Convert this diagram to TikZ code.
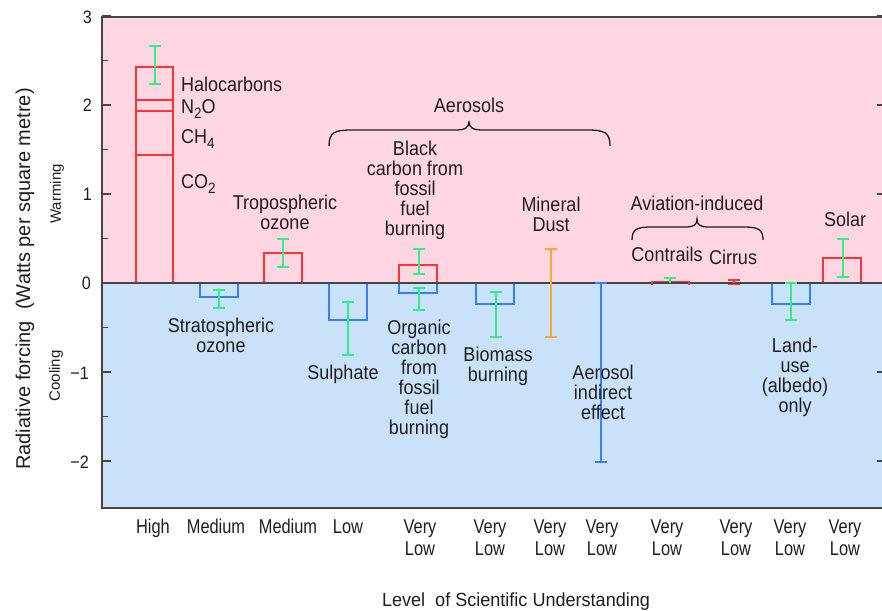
\documentclass[tikz,border=0pt]{standalone}
\usepackage{fontspec}
\setmainfont{Liberation Sans}[FakeStretch=0.9]
\newfontfamily\narrowfont{Liberation Sans}[FakeStretch=0.82]
\newfontfamily\titlefont{Liberation Sans}[FakeStretch=0.95]
\newfontfamily\plainfont{Liberation Sans}
\definecolor{warmbg}{HTML}{FFD6E1}
\definecolor{coolbg}{HTML}{C9E2FA}
\definecolor{barred}{HTML}{FF3333}
\definecolor{barblue}{HTML}{3380FF}
\definecolor{errgreen}{HTML}{33EE88}
\definecolor{errorange}{HTML}{FFA633}
\definecolor{framegray}{HTML}{454545}
\definecolor{txt}{HTML}{1E1E1E}
\newcommand\sbs[1]{\raisebox{-0.28em}{\fontsize{15}{15}\selectfont #1}}
\newcommand\myerrbar[4]{%
  \draw[#1, line width=1.8] (#2,#3) -- (#2,#4) (#2-6,#3) -- (#2+6,#3) (#2-6,#4) -- (#2+6,#4);}
\tikzset{
  lab/.style={font=\fontsize{20}{20}\selectfont, align=center, text=txt, inner sep=0pt},
  lvl/.style={font=\narrowfont\fontsize{20}{22}\selectfont, align=center, text=txt, inner sep=0pt},
  ticklab/.style={font=\fontsize{18}{18}\selectfont, text=txt, inner sep=0pt, anchor=east},
  redbox/.style={draw=barred, line width=1.8},
  bluebox/.style={draw=barblue, line width=1.8},
  bracestyle/.style={draw=txt, line width=1.3},
}
\begin{document}
\begin{tikzpicture}[x=1pt, y=-1pt]
\useasboundingbox (0,0) rectangle (882,610);
% backgrounds
\fill[warmbg] (102,17) rectangle (886,283);
\fill[coolbg] (102,283) rectangle (886,508);
% bars
\draw[redbox] (136,283) rectangle (173,67);
\draw[redbox] (136,100) -- (173,100) (136,111) -- (173,111) (136,155) -- (173,155);
\draw[bluebox] (200,283) rectangle (238,297);
\draw[redbox] (264,283) rectangle (302,253);
\draw[bluebox] (329,283) rectangle (367,320);
\draw[redbox] (399,283) rectangle (437,265);
\draw[bluebox] (399,283) rectangle (437,293);
\draw[bluebox] (476,283) rectangle (514,304);
\draw[bluebox] (772,283) rectangle (810,304);
\draw[redbox] (823,283) rectangle (861,258);
% zero line and frame
\draw[framegray, line width=2] (102,283) -- (886,283);
\draw[framegray, line width=2] (102,17) rectangle (886,508);
\foreach \yy in {16,105,194,372,461} {
  \draw[framegray, line width=1.6] (102,\yy) -- (111,\yy);
  \draw[framegray, line width=1.6] (877,\yy) -- (886,\yy);
}
\foreach \yy in {60.5,149.5,238.5,327.5,416.5} {
  \draw[framegray, line width=1.4] (102,\yy) -- (108,\yy);
}
% contrails / cirrus
\draw[barred, line width=1.8] (652,285) -- (652,281.5) -- (689,281.5) -- (689,285);
% error bars
\myerrbar{errgreen}{155}{46}{84}
\myerrbar{errgreen}{219}{290}{308}
\myerrbar{errgreen}{283}{239}{267}
\myerrbar{errgreen}{348}{302}{355}
\myerrbar{errgreen}{419}{249}{274}
\myerrbar{errgreen}{419}{288}{310}
\myerrbar{errgreen}{496}{292}{337}
\myerrbar{errorange}{551}{249}{337}
\myerrbar{barblue}{601}{283}{462}
\draw[errgreen, line width=1.8] (670,278) -- (670,283) (664,278) -- (676,278);
\myerrbar{barred}{734}{280}{284.5}
\myerrbar{errgreen}{791}{283}{320}
\myerrbar{errgreen}{843}{239}{277}
% braces
\draw[bracestyle] (329,146) .. controls (329,132) and (335,130) .. (352,130) -- (455,130)
  .. controls (465,130) and (469,128) .. (469,121)
  .. controls (469,128) and (473,130) .. (483,130) -- (587,130)
  .. controls (604,130) and (610,132) .. (610,146);
\draw[bracestyle] (632,240) .. controls (632,229) and (637,227) .. (652,227) -- (685,227)
  .. controls (694,227) and (697,225) .. (697,219)
  .. controls (697,225) and (700,227) .. (709,227) -- (743,227)
  .. controls (758,227) and (763,229) .. (763,240);
% axis tick labels
\node[ticklab] (t3) at (92,17) {3};
\node[ticklab] (t2) at (92,105) {2};
\node[ticklab] (t1) at (92,194) {1};
\node[ticklab] (t0) at (91,283) {0};
\node[ticklab] (tm1) at (89,373) {−1};
\node[ticklab] (tm2) at (89,462) {−2};
% axis titles
\node[rotate=90, font=\plainfont\fontsize{20}{20}\selectfont, text=txt, inner sep=0pt] (ytitle) at (25,279) {Radiative forcing\ \ (Watts per square metre)};
\node[rotate=90, font=\plainfont\fontsize{15}{15}\selectfont, text=txt, inner sep=0pt] (warm) at (57,194) {Warming};
\node[rotate=90, font=\plainfont\fontsize{15}{15}\selectfont, text=txt, inner sep=0pt] (cool) at (56,376) {Cooling};
% labels
\node[lab, anchor=base west] (halo) at (181,91) {Halocarbons};
\node[lab, anchor=base west] (ntwo) at (181,113) {N\sbs{2}O};
\node[lab, anchor=base west] (chf) at (181,143) {CH\sbs{4}};
\node[lab, anchor=base west] (cotwo) at (181,188) {CO\sbs{2}};
\node[lab] (trop) at (285,212) {Tropospheric\\ozone};
\node[lab] (strat) at (221,335) {Stratospheric\\ozone};
\node[lab] (aer) at (469,105) {Aerosols};
\node[lab] (bc) at (415,190) {Black\\carbon from\\fossil\\fuel\\burning};
\node[lab] (dust) at (551,214) {Mineral\\Dust};
\node[lab] (sulph) at (343,374) {Sulphate};
\node[lab] (oc) at (419,379) {Organic\\carbon\\from\\fossil\\fuel\\burning};
\node[lab] (bio) at (498,366) {Biomass\\burning};
\node[lab] (indir) at (603,392) {Aerosol\\indirect\\effect};
\node[lab] (avi) at (697,203) {Aviation-induced};
\node[lab] (contr) at (667,254) {Contrails};
\node[lab] (cirr) at (733,257) {Cirrus};
\node[lab] (land) at (795,377) {Land-\\use\\(albedo)\\only};
\node[lab] (solar) at (845,219) {Solar};
% level of understanding
\node[lvl, anchor=base] (l1) at (153,533) {High};
\node[lvl, anchor=base] (l2) at (216,533) {Medium};
\node[lvl, anchor=base] (l3) at (288,533) {Medium};
\node[lvl, anchor=base] (l4) at (348,533) {Low};
\node[lvl] (l5) at (420,538) {Very\\Low};
\node[lvl] (l6) at (490,538) {Very\\Low};
\node[lvl] (l7) at (550,538) {Very\\Low};
\node[lvl] (l8) at (602,538) {Very\\Low};
\node[lvl] (l9) at (667,538) {Very\\Low};
\node[lvl] (l10) at (736,538) {Very\\Low};
\node[lvl] (l11) at (790,538) {Very\\Low};
\node[lvl] (l12) at (845,538) {Very\\Low};
\node[font=\titlefont\fontsize{19}{19}\selectfont, text=txt, inner sep=0pt, anchor=base] (lvltitle) at (516,606) {Level\ \ of Scientific Understanding};
\end{tikzpicture}
\end{document}
